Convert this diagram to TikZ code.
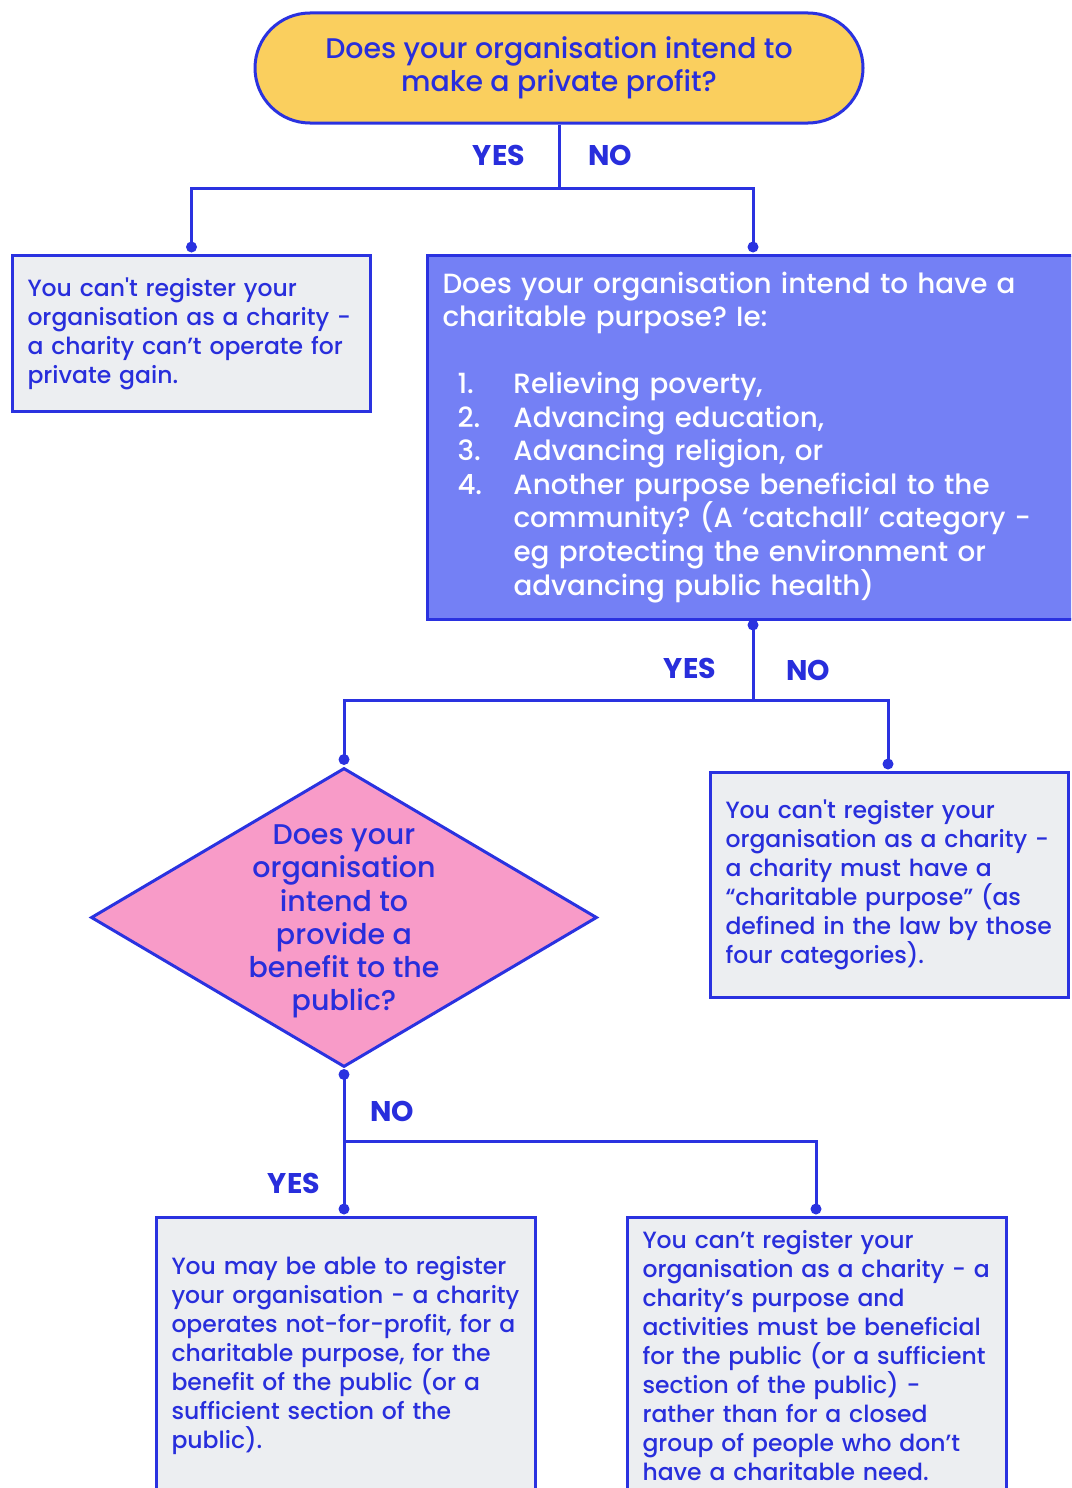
\documentclass[tikz,border=0pt]{standalone}
\usepackage{fontspec}
\setmainfont{Poppins}[Ligatures=TeXOff, UprightFont=* Medium, BoldFont=* Bold]
\usetikzlibrary{shapes.geometric}
\definecolor{lblue}{RGB}{42,50,224}
\definecolor{tblue}{RGB}{40,46,220}
\definecolor{ygold}{RGB}{250,207,94}
\definecolor{lgrey}{RGB}{236,238,241}
\definecolor{purp}{RGB}{116,128,245}
\definecolor{pinkf}{RGB}{248,155,200}
\tikzset{
  conn/.style={draw=lblue, line width=3pt},
  dotc/.style={circle, fill=lblue, inner sep=0pt, minimum size=11pt},
  infobox/.style={draw=lblue, line width=3pt, fill=lgrey, anchor=north west, align=left,
     inner xsep=15pt, inner ysep=0pt, text=tblue, font=\fontsize{23.5}{29}\selectfont},
  lab/.style={text=tblue, font=\fontsize{28.5}{30}\selectfont\bfseries, inner sep=0pt},
}
\begin{document}
\frenchspacing
\hbadness=10000 \hfuzz=100pt
\begin{tikzpicture}[x=1pt,y=-1pt]
\useasboundingbox (0,0) rectangle (1071,1488);
\clip (0,0) rectangle (1071,1488);
\fill[white] (0,0) rectangle (1071,1488);

% top terminator
\node[draw=lblue, line width=3pt, fill=ygold, rounded corners=55pt, minimum width=608pt,
  minimum height=110pt, align=center, text=tblue, font=\fontsize{28.4}{33}\selectfont]
  (top) at (559,68) {Does your organisation intend to\\make a private profit?};

% box A
\node[infobox, minimum height=156pt, text width=328pt] (boxA) at (11,254)
  {You can't register your\\organisation as a charity -\\a charity can’t operate for\\private gain.};

% box B
\node[draw=lblue, line width=3pt, fill=purp, anchor=north west, align=left, inner xsep=15pt,
  inner ysep=0pt, text=white, font=\fontsize{27.8}{33.5}\selectfont,
  minimum height=364pt, text width=630pt] (boxB) at (426,254)
  {Does your organisation intend to have a\\charitable purpose? Ie:\\[33.5pt]
  \hspace*{15pt}\makebox[56pt][l]{1.}Relieving poverty,\\
  \hspace*{15pt}\makebox[56pt][l]{2.}Advancing education,\\
  \hspace*{15pt}\makebox[56pt][l]{3.}Advancing religion, or\\
  \hspace*{15pt}\makebox[56pt][l]{4.}Another purpose beneficial to the\\
  \hspace*{71pt}community? (A ‘catchall’ category -\\
  \hspace*{71pt}eg protecting the environment or\\
  \hspace*{71pt}advancing public health)};

% diamond
\node[diamond, draw=lblue, line width=3pt, fill=pinkf, minimum width=506pt, minimum height=299pt,
  inner sep=0pt] (dia) at (344,917.5) {};
\node[align=center, text=tblue, font=\fontsize{28.5}{33.3}\selectfont, inner sep=0pt]
  (diatext) at ([yshift=-4pt]dia.center) {Does your\\organisation\\intend to\\provide a\\benefit to the\\public?};

% box C
\node[infobox, minimum height=225pt, text width=328pt] (boxC) at (709,771)
  {You can't register your\\organisation as a charity -\\a charity must have a\\“charitable purpose” (as\\defined in the law by those\\four categories).};

% box D
\node[infobox, minimum height=276pt, text width=349pt] (boxD) at (155,1216)
  {You may be able to register\\your organisation - a charity\\operates not-for-profit, for a\\charitable purpose, for the\\benefit of the public (or a\\sufficient section of the\\public).};

% box E
\node[infobox, minimum height=276pt, text width=349pt] (boxE) at (626,1216)
  {You can’t register your\\organisation as a charity - a\\charity’s purpose and\\activities must be beneficial\\for the public (or a sufficient\\section of the public) -\\rather than for a closed\\group of people who don’t\\have a charitable need.};

% junctions and connector ends
\coordinate (j1) at (559,188);
\coordinate (aTop) at ([yshift=7pt]boxA.north);
\coordinate (bTop) at (753,247);
\coordinate (bBot) at (753,625);
\coordinate (j2) at (753,700);
\coordinate (dTop) at ([yshift=7pt]dia.north);
\coordinate (cTop) at (888,764);
\coordinate (dBot) at ([yshift=-6pt]dia.south);
\coordinate (j3) at (344,1141);
\coordinate (boxDtop) at (344,1209);
\coordinate (boxEtop) at (816,1209);

\draw[conn] (top.south) -- (j1);
\draw[conn] (aTop) |- (j1) -| (bTop);
\draw[conn] (bBot) -- (j2);
\draw[conn] (dTop) |- (j2) -| (cTop);
\draw[conn] (dBot) -- (boxDtop);
\draw[conn] (j3) -| (boxEtop);

\foreach \p in {aTop,bTop,bBot,dTop,cTop,dBot,boxDtop,boxEtop}
  \node[dotc] at (\p) {};

% labels
\node[lab] (yes1) at (499,155) {YES};
\node[lab] (no1) at (610,155) {NO};
\node[lab] (yes2) at (690,668) {YES};
\node[lab] (no2) at (808,670) {NO};
\node[lab] (no3) at (392,1111) {NO};
\node[lab] (yes3) at (294,1183) {YES};
\end{tikzpicture}
\end{document}
